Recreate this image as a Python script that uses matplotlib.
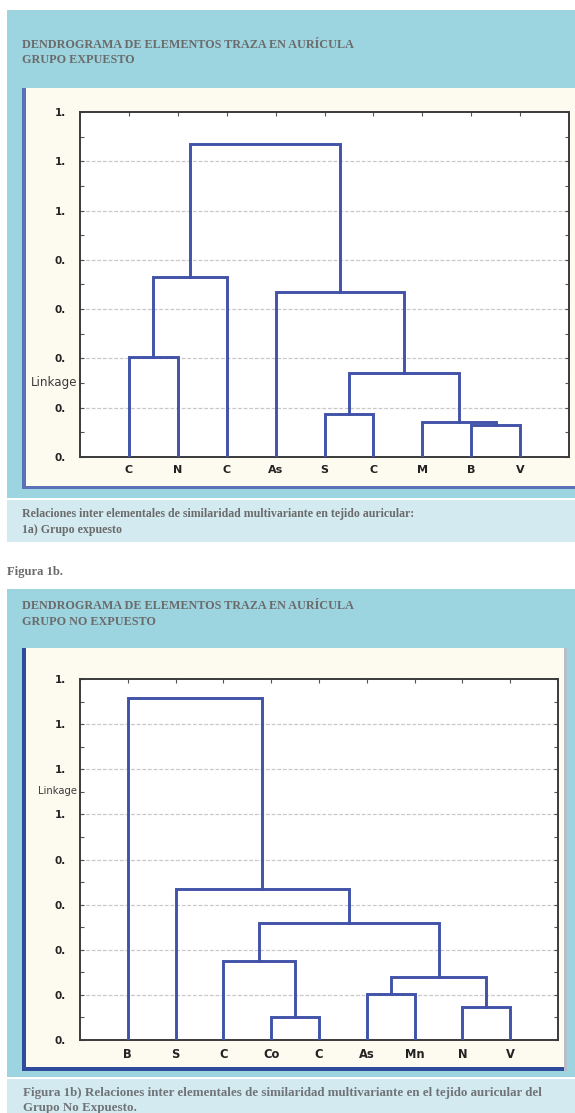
"""Dendrogramas de elementos traza en aurícula: grupo expuesto y no expuesto"""
import matplotlib
matplotlib.use("Agg")
import matplotlib.pyplot as plt
from matplotlib.patches import Rectangle
from matplotlib.ticker import MultipleLocator, FixedLocator
import numpy as np

W, H = 575, 1113

## Figura 1a: grupo expuesto
LEAVES_A = ["C", "N", "C", "As", "S", "C", "M", "B", "V"]
# (izquierda, derecha, distancia); índices >= 9 son uniones anteriores
MERGES_A = [(0, 1, 0.405), (7, 8, 0.13), (6, 10, 0.142), (4, 5, 0.175),
            (12, 11, 0.34), (3, 13, 0.67), (9, 2, 0.73), (15, 14, 1.27)]
YMAX_A = 1.4

## Figura 1b: grupo no expuesto
LEAVES_B = ["B", "S", "C", "Co", "C", "As", "Mn", "N", "V"]
MERGES_B = [(3, 4, 0.10), (7, 8, 0.147), (5, 6, 0.205), (11, 10, 0.28),
            (2, 9, 0.35), (13, 12, 0.52), (1, 14, 0.67), (0, 15, 1.515)]
YMAX_B = 1.6

TITLE = "DENDROGRAMA DE ELEMENTOS TRAZA EN AURÍCULA"

BAND = "#9cd4e0"
CAPTION_BG = "#d3eaf0"
BEIGE = "#fdfaf0"
LINE = "#4152a8"
GREY_TXT = "#6b6b6b"
SERIF = "Liberation Serif"


def px_axes(fig, x0, y0, x1, y1):
    """Crea unos ejes a partir de una caja en píxeles (origen arriba a la izquierda)"""
    return fig.add_axes([x0 / W, 1 - y1 / H, (x1 - x0) / W, (y1 - y0) / H])


def dendrogram(ax, leaves, merges, ymax, label_size, linkage_y, linkage_size):
    n = len(leaves)
    xpos = {i: i + 1.0 for i in range(n)}
    hgt = {i: 0.0 for i in range(n)}
    for k, (a, b, h) in enumerate(merges):
        xa, xb = xpos[a], xpos[b]
        ax.plot([xa, xa, xb, xb], [hgt[a], h, h, hgt[b]], color=LINE,
                lw=2.1, solid_joinstyle="miter", zorder=3)
        xpos[n + k] = (xa + xb) / 2
        hgt[n + k] = h

    ax.set_xlim(0, n + 1)
    ax.set_ylim(0, ymax)
    ax.set_facecolor("white")
    ticks = np.arange(0, ymax + 0.01, 0.2)
    ax.yaxis.set_major_locator(FixedLocator(ticks))
    ax.yaxis.set_minor_locator(MultipleLocator(0.1))
    ax.set_yticklabels([str(int(v + 1e-9)) + "." for v in ticks],
                       fontweight="bold", fontsize=7.5, color="#222222")
    ax.set_xticks(range(1, n + 1))
    ax.set_xticklabels(leaves, fontweight="bold", fontsize=label_size,
                       color="#222222")
    ax.tick_params(axis="both", which="both", direction="in", top=True,
                   right=True, color="#555555", length=3, width=0.8)
    ax.tick_params(axis="y", which="major", pad=10)
    ax.tick_params(axis="x", which="major", pad=6)
    for t in ticks[1:-1]:
        ax.axhline(t, color="#c8c8c8", lw=0.9, ls=(0, (3, 1.5)), zorder=1)
    for sp in ax.spines.values():
        sp.set_color("#3a3a3a")
        sp.set_linewidth(1.4)
    ax.text(-0.006, linkage_y, "Linkage", transform=ax.transAxes, ha="right",
            va="center", fontsize=linkage_size, color="#3a3a3a")


fig = plt.figure(figsize=(W / 100, H / 100), dpi=100, facecolor="white")

# fondo: bandas, paneles y textos en coordenadas de píxel
bg = fig.add_axes([0, 0, 1, 1])
bg.set_xlim(0, W)
bg.set_ylim(H, 0)
bg.axis("off")

bg.add_patch(Rectangle((7, 10), W - 7, 488, color=BAND, lw=0))
bg.add_patch(Rectangle((22, 88), W - 22, 401, color=BEIGE, lw=0))
bg.add_patch(Rectangle((22, 88), 4, 401, color="#5a72b8", lw=0))
bg.add_patch(Rectangle((22, 486), W - 22, 3, color="#5a72b8", lw=0))
bg.add_patch(Rectangle((7, 500), W - 7, 42, color=CAPTION_BG, lw=0))

bg.add_patch(Rectangle((7, 589), W - 7, 488, color=BAND, lw=0))
bg.add_patch(Rectangle((22, 648), 545, 423, color=BEIGE, lw=0))
bg.add_patch(Rectangle((22, 648), 4, 423, color="#2f4c9c", lw=0))
bg.add_patch(Rectangle((22, 1067), 545, 4, color="#2f4c9c", lw=0))
bg.add_patch(Rectangle((564, 648), 3, 423, color="#b8bccb", lw=0))
bg.add_patch(Rectangle((7, 1079), W - 7, H - 1079, color=CAPTION_BG, lw=0))

title_kw = dict(family=SERIF, fontweight="bold", fontsize=8.75, color=GREY_TXT,
                va="center", ha="left")
bg.text(22, 45, TITLE, **title_kw)
bg.text(22, 60, "GRUPO EXPUESTO", **title_kw)
bg.text(22, 606, TITLE, **title_kw)
bg.text(22, 622, "GRUPO NO EXPUESTO", **title_kw)

cap_kw = dict(family=SERIF, fontweight="bold", fontsize=8.6, color=GREY_TXT,
              va="center", ha="left")
bg.text(22, 514, "Relaciones inter elementales de similaridad multivariante "
        "en tejido auricular:", **cap_kw)
bg.text(22, 530, "1a) Grupo expuesto", **cap_kw)
bg.text(7, 572, "Figura 1b.", **{**cap_kw, "fontsize": 9.1})
cap2_kw = {**cap_kw, "fontsize": 9.4, "color": "#707478"}
bg.text(23, 1093, "Figura 1b) Relaciones inter elementales de similaridad "
        "multivariante en el tejido auricular del", **cap2_kw)
bg.text(23, 1108, "Grupo No Expuesto.", **cap2_kw)

ax_a = px_axes(fig, 80, 112, 569, 457)
dendrogram(ax_a, LEAVES_A, MERGES_A, YMAX_A, 8, 0.217, 8.6)

ax_b = px_axes(fig, 80, 679, 558, 1040)
dendrogram(ax_b, LEAVES_B, MERGES_B, YMAX_B, 8.3, 0.69, 7.2)

fig.savefig("out.png", dpi=100, facecolor="white")
